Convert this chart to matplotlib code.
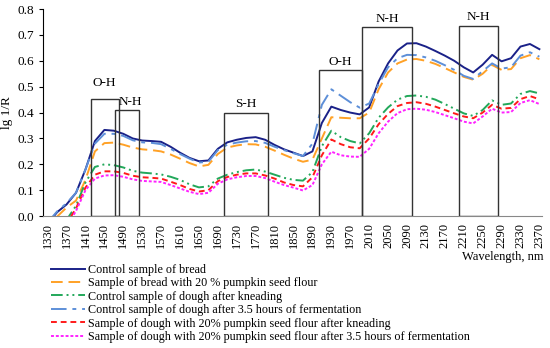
import matplotlib
matplotlib.use('Agg')
import matplotlib.pyplot as plt
from matplotlib.patches import Rectangle

plt.rcParams['font.family'] = ['Liberation Serif', 'DejaVu Serif']

wavelength = list(range(1330, 2371, 20))

control_bread = [
    -0.03, 0.015, 0.045, 0.09, 0.18, 0.29, 0.333, 0.33, 0.318, 0.30,
    0.292, 0.29, 0.287, 0.268, 0.245, 0.225, 0.212, 0.215, 0.26, 0.285,
    0.295, 0.302, 0.305, 0.295, 0.275, 0.258, 0.245, 0.232, 0.25, 0.36,
    0.423, 0.41, 0.40, 0.393, 0.42, 0.52, 0.59, 0.64, 0.667, 0.668,
    0.655, 0.638, 0.62, 0.60, 0.575, 0.555, 0.585, 0.623, 0.598, 0.61,
    0.655, 0.665, 0.645]
bread_pumpkin = [
    -0.06, -0.002, 0.033, 0.06, 0.14, 0.25, 0.282, 0.284, 0.276, 0.265,
    0.258, 0.255, 0.25, 0.238, 0.222, 0.205, 0.192, 0.198, 0.24, 0.265,
    0.273, 0.278, 0.277, 0.268, 0.253, 0.237, 0.222, 0.21, 0.218, 0.30,
    0.382, 0.38, 0.378, 0.378, 0.40, 0.49, 0.555, 0.59, 0.605, 0.607,
    0.60, 0.588, 0.572, 0.555, 0.538, 0.527, 0.55, 0.584, 0.565, 0.568,
    0.61, 0.622, 0.606]
dough_kneading = [
    -0.1, -0.06, -0.015, 0.04, 0.13, 0.19, 0.20, 0.197, 0.188, 0.175,
    0.168, 0.165, 0.161, 0.152, 0.14, 0.123, 0.111, 0.115, 0.145, 0.16,
    0.17, 0.177, 0.18, 0.172, 0.16, 0.148, 0.14, 0.137, 0.17, 0.27,
    0.33, 0.305, 0.29, 0.281, 0.32, 0.38, 0.42, 0.45, 0.464, 0.466,
    0.461, 0.45, 0.433, 0.415, 0.397, 0.387, 0.41, 0.447, 0.43, 0.435,
    0.472, 0.483, 0.474]
dough_ferment = [
    -0.025, 0.018, 0.05, 0.09, 0.18, 0.28, 0.318, 0.318, 0.31, 0.293,
    0.285, 0.283, 0.278, 0.26, 0.24, 0.222, 0.207, 0.21, 0.255, 0.276,
    0.284, 0.289, 0.29, 0.283, 0.268, 0.255, 0.243, 0.232, 0.28, 0.43,
    0.49, 0.465, 0.44, 0.419, 0.435, 0.51, 0.575, 0.61, 0.623, 0.622,
    0.613, 0.60, 0.583, 0.565, 0.542, 0.53, 0.56, 0.59, 0.57, 0.575,
    0.62, 0.633, 0.616]
pumpkin_kneading = [
    -0.12, -0.08, -0.03, 0.03, 0.11, 0.16, 0.173, 0.173, 0.167, 0.156,
    0.15, 0.148, 0.145, 0.133, 0.12, 0.105, 0.095, 0.10, 0.135, 0.151,
    0.16, 0.165, 0.165, 0.157, 0.145, 0.13, 0.12, 0.115, 0.15, 0.235,
    0.296, 0.278, 0.266, 0.262, 0.30, 0.355, 0.395, 0.425, 0.437, 0.44,
    0.434, 0.423, 0.41, 0.397, 0.385, 0.378, 0.40, 0.43, 0.415, 0.418,
    0.452, 0.464, 0.451]
pumpkin_ferment = [
    -0.13, -0.09, -0.04, 0.02, 0.10, 0.145, 0.157, 0.158, 0.152, 0.142,
    0.136, 0.134, 0.132, 0.12, 0.107, 0.094, 0.085, 0.09, 0.125, 0.142,
    0.15, 0.155, 0.155, 0.147, 0.133, 0.12, 0.11, 0.099, 0.12, 0.20,
    0.249, 0.235, 0.23, 0.229, 0.26, 0.32, 0.365, 0.398, 0.413, 0.415,
    0.411, 0.402, 0.39, 0.378, 0.365, 0.358, 0.385, 0.415, 0.40, 0.402,
    0.437, 0.448, 0.433]

# absorption bands (start, end, box height)
band_labels = ['O-H', 'N-H', 'S-H', 'O-H', 'N-H', 'N-H']
band_start = [1422, 1473, 1702, 1903, 1995, 2200]
band_end = [1480, 1523, 1796, 1995, 2101, 2282]
band_top = [0.453, 0.411, 0.40, 0.563, 0.729, 0.735]

series = [
    ('Control sample of bread', control_bread, '#1a2188', None),
    ('Sample of bread with 20 % pumpkin seed flour', bread_pumpkin, '#ffa126', (6, 3)),
    ('Control sample of dough after kneading', dough_kneading, '#22a85a', (6, 2, 1, 2, 1, 2)),
    ('Control sample of dough after 3.5 hours of fermentation', dough_ferment, '#5d8fd8', (8, 3, 2, 3)),
    ('Sample of dough with 20% pumpkin seed flour after kneading', pumpkin_kneading, '#ff1a1a', (3, 2)),
    ('Sample of dough with 20% pumpkin seed flour after 3.5 hours of fermentation', pumpkin_ferment, '#ff22ff', (1.5, 1)),
]

fig = plt.figure(figsize=(5.5, 3.48), dpi=100)
ax = fig.add_axes([0.078, 0.379, 0.907, 0.595])

for label, vals, color, dash in series:
    line, = ax.plot(wavelength, vals, color=color, lw=1.4, label=label,
                    solid_joinstyle='round', dash_joinstyle='round')
    if dash:
        line.set_dashes(dash)

for lab, x0, x1, top in zip(band_labels, band_start, band_end, band_top):
    ax.add_patch(Rectangle((x0, 0), x1 - x0, top, fill=False, ec='#333333', lw=1.0, zorder=3))

# band captions
ax.text(1450, 0.49, band_labels[0], ha='center', va='bottom', fontsize=9.5)
ax.text(1506, 0.418, band_labels[1], ha='center', va='bottom', fontsize=9.5)
ax.text(1749, 0.41, band_labels[2], ha='center', va='bottom', fontsize=9.5)
ax.text(1949, 0.573, band_labels[3], ha='center', va='bottom', fontsize=9.5)
ax.text(2048, 0.739, band_labels[4], ha='center', va='bottom', fontsize=9.5)
ax.text(2241, 0.745, band_labels[5], ha='center', va='bottom', fontsize=9.5)

ax.set_xlim(1320, 2375)
ax.set_ylim(0, 0.8)
ax.set_xticks(range(1330, 2371, 40))
ax.set_xticklabels([str(v) for v in range(1330, 2371, 40)], rotation=90, fontsize=9)
ax.set_yticks([i / 10 for i in range(9)])
ax.set_yticklabels(['%.1f' % (i / 10) for i in range(9)], fontsize=9.5)
ax.tick_params(axis='y', length=3, direction='out')
ax.tick_params(axis='x', length=0, pad=5)
ax.spines['top'].set_visible(False)
ax.spines['right'].set_visible(False)
ax.spines['bottom'].set_color('#888888')
ax.set_ylabel('lg 1/R', fontsize=9.5, labelpad=3)

fig.text(0.988, 0.262, 'Wavelength, nm', ha='right', va='center', fontsize=9)

ax.legend(loc='upper left', bbox_to_anchor=(0.092, 0.242), bbox_transform=fig.transFigure,
          frameon=False, fontsize=8.75, handlelength=2.8, handletextpad=0.3,
          labelspacing=0.12, borderpad=0, borderaxespad=0)

fig.savefig('out.png', dpi=100)
